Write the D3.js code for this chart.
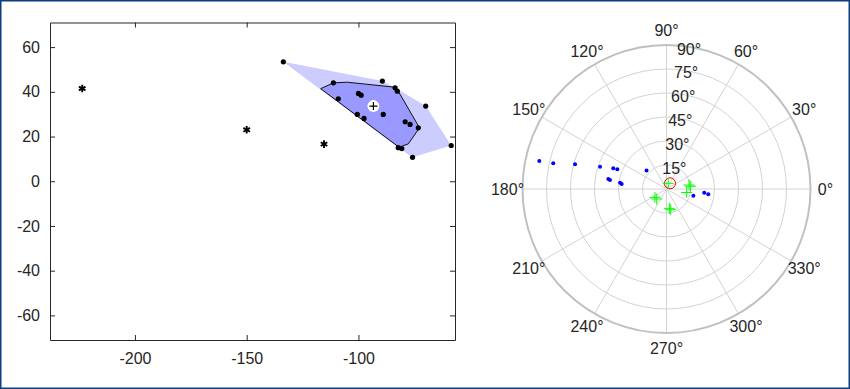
<!DOCTYPE html>
<html>
<head>
<meta charset="utf-8">
<script src="https://cdn.jsdelivr.net/npm/d3@7"></script>
<style>
  body { margin: 0; background: #fff; }
  svg { display: block; }
  text { font-family: "Liberation Sans", Arial, Helvetica, sans-serif; fill: #262626; }
</style>
</head>
<body>
<div id="chart"></div>
<script>
'use strict'

// left panel: bag plot data (x, y)
var pointX = [-133.6, -111.2, -89.3, -83.6, -82.6, -69.9, -109.0, -100.0, -98.8, -88.9,
              -100.5, -97.5, -79.1, -76.9, -73.2, -82.2, -80.6, -75.8, -58.5];
var pointY = [53.4, 44.0, 44.8, 41.8, 40.3, 33.6, 36.9, 39.3, 38.5, 29.9,
              29.9, 28.1, 26.6, 25.4, 23.9, 15.0, 14.6, 10.7, 16.0];
var outlierX = [-223.6, -150.0, -115.4];
var outlierY = [41.5, 23.0, 16.6];
var bagX = [-116.9, -111.2, -105.0, -84.1, -82.2, -72.7, -77.7, -81.8];
var bagY = [41.4, 44.0, 44.3, 42.1, 40.3, 23.9, 16.7, 15.2];
var medianXY = [-93.3, 33.6];
var xTicks = [-200, -150, -100];
var yTicks = [-60, -40, -20, 0, 20, 40, 60];

// right panel: polar data (theta in degrees, r)
var blueTheta = [167.6, 167.2, 164.9, 161.5, 158.7, 158.2, 137.2, 170.3, 170.9, 172.3, 173.6, 346.0, 354.4, 352.8];
var blueR = [81.4, 72.6, 59.2, 43.8, 35.7, 33.1, 17.0, 36.9, 35.8, 29.3, 28.2, 17.3, 23.7, 26.3];
var greenTheta = [72.5, 10.1, 6.4, 350.2, 215.8, 225.6, 278.3, 281.5];
var greenR = [3.7, 14.3, 15.2, 12.8, 8.9, 8.75, 12.2, 13.2];
var redTheta = [58.4];
var redR = [4.2];
var rTicks = [15, 30, 45, 60, 75, 90];
var thetaTicks = [0, 30, 60, 90, 120, 150, 180, 210, 240, 270, 300, 330];

const W = 850, H = 389;
const ink = '#262626';

var svg = d3.select('#chart').append('svg')
  .attr('width', W)
  .attr('height', H);

svg.append('rect')
  .attr('x', 0.75).attr('y', 0.75)
  .attr('width', W - 1.5).attr('height', H - 1.5)
  .attr('fill', '#fff')
  .attr('stroke', '#0d3f7e')
  .attr('stroke-width', 1.5);

// ---------- left axes ----------
const box = {left: 50, right: 455, top: 22.5, bottom: 340};

var x = d3.scaleLinear().domain([-238, -56.8]).range([box.left, box.right]);
var y = d3.scaleLinear().domain([-71, 71]).range([box.bottom, box.top]);

var left = svg.append('g');

var clip = svg.append('clipPath').attr('id', 'clipL')
clip.append('rect')
  .attr('x', box.left).attr('y', box.top)
  .attr('width', box.right - box.left).attr('height', box.bottom - box.top);

var plot = left.append('g').attr('clip-path', 'url(#clipL)');

var pts = pointX.map((d, i) => [x(d), y(pointY[i])]);
var hull = d3.polygonHull(pts);

plot.append('path')
  .attr('d', 'M' + hull.join('L') + 'Z')
  .attr('fill', '#ccccff')
  .attr('stroke', 'none');

var bag = bagX.map((d, i) => [x(d), y(bagY[i])]);
plot.append('path')
  .attr('d', 'M' + bag.join('L') + 'Z')
  .attr('fill', '#9999ff')
  .attr('stroke', '#111')
  .attr('stroke-width', 1);

plot.selectAll('circle.pt')
  .data(pointX)
  .enter().append('circle')
  .attr('class', 'pt')
  .attr('cx', d => x(d))
  .attr('cy', (d, i) => y(pointY[i]))
  .attr('r', 2.6)
  .attr('fill', '#000');

// outliers as asterisks
var star = plot.selectAll('g.star')
  .data(outlierX)
  .enter().append('g')
  .attr('class', 'star')
  .attr('transform', (d, i) => 'translate(' + x(d) + ',' + y(outlierY[i]) + ')');
[0, 60, 120].forEach(a => {
  star.append('line')
    .attr('x1', 0).attr('y1', -3.8).attr('x2', 0).attr('y2', 3.8)
    .attr('transform', 'rotate(' + a + ')')
    .attr('stroke', '#000').attr('stroke-width', 1.9);
});

// depth median
var med = plot.append('g')
  .attr('transform', 'translate(' + x(medianXY[0]) + ',' + y(medianXY[1]) + ')');
med.append('circle').attr('r', 6).attr('fill', '#fff');
med.append('path').attr('d', 'M-4,0H4M0,-4V4').attr('stroke', '#000').attr('stroke-width', 1.2);

// axes (ticks inward, box all round)
function styleAxis(g) {
  g.selectAll('path').attr('stroke', ink).attr('stroke-width', 1);
  g.selectAll('line').attr('stroke', ink).attr('stroke-width', 1);
  g.selectAll('text').attr('fill', ink).style('font-size', '16px')
    .style('font-family', '"Liberation Sans", Arial, sans-serif');
}
var plain = d => String(d);

left.append('g')
  .attr('transform', 'translate(0,' + box.bottom + ')')
  .call(d3.axisBottom(x).tickValues(xTicks).tickSize(-5).tickSizeOuter(0).tickPadding(13).tickFormat(plain))
  .call(styleAxis);
left.append('g')
  .attr('transform', 'translate(0,' + box.top + ')')
  .call(d3.axisTop(x).tickValues(xTicks).tickSize(-5).tickSizeOuter(0).tickFormat(''))
  .call(styleAxis);
left.append('g')
  .attr('transform', 'translate(' + box.left + ',0)')
  .call(d3.axisLeft(y).tickValues(yTicks).tickSize(-5).tickSizeOuter(0).tickPadding(10).tickFormat(plain))
  .call(styleAxis);
left.append('g')
  .attr('transform', 'translate(' + box.right + ',0)')
  .call(d3.axisRight(y).tickValues(yTicks).tickSize(-5).tickSizeOuter(0).tickFormat(''))
  .call(styleAxis);

// ---------- right polar axes ----------
const cx = 666.5, cy = 189;
var r = d3.scaleLinear().domain([0, 90]).range([0, 144]);
const rad = Math.PI / 180;
function px(t, v) { return cx + r(v) * Math.cos(t * rad); }
function py(t, v) { return cy - r(v) * Math.sin(t * rad); }

var polar = svg.append('g');

polar.selectAll('line.spoke')
  .data(thetaTicks)
  .enter().append('line')
  .attr('x1', cx).attr('y1', cy)
  .attr('x2', d => px(d, 90)).attr('y2', d => py(d, 90))
  .attr('stroke', '#d3d3d3').attr('stroke-width', 1);

polar.selectAll('circle.ring')
  .data(rTicks)
  .enter().append('circle')
  .attr('cx', cx).attr('cy', cy)
  .attr('r', d => r(d))
  .attr('fill', 'none')
  .attr('stroke', d => d === 90 ? '#c0c0c0' : '#d3d3d3')
  .attr('stroke-width', d => d === 90 ? 2 : 1);

polar.selectAll('text.theta')
  .data(thetaTicks)
  .enter().append('text')
  .attr('x', d => cx + 159 * Math.cos(d * rad))
  .attr('y', d => cy - 159 * Math.sin(d * rad))
  .attr('text-anchor', 'middle')
  .attr('dominant-baseline', 'central')
  .style('font-size', '16px')
  .text(d => d + '°');

polar.selectAll('text.rlab')
  .data(rTicks)
  .enter().append('text')
  .attr('x', d => px(83, d) + 5)
  .attr('y', d => py(83, d) + 3)
  .attr('text-anchor', 'middle')
  .attr('dominant-baseline', 'central')
  .style('font-size', '16px')
  .text(d => d + '°');

polar.selectAll('circle.blue')
  .data(blueTheta)
  .enter().append('circle')
  .attr('cx', (d, i) => px(d, blueR[i]))
  .attr('cy', (d, i) => py(d, blueR[i]))
  .attr('r', 2)
  .attr('fill', '#0000ff');

polar.selectAll('circle.red')
  .data(redTheta)
  .enter().append('circle')
  .attr('cx', (d, i) => px(d, redR[i]))
  .attr('cy', (d, i) => py(d, redR[i]))
  .attr('r', 5.5)
  .attr('fill', 'none')
  .attr('stroke', '#ff0000')
  .attr('stroke-width', 1);

polar.selectAll('path.green')
  .data(greenTheta)
  .enter().append('path')
  .attr('d', (d, i) => {
    var gx = px(d, greenR[i]), gy = py(d, greenR[i]);
    return 'M' + (gx - 5.5) + ',' + gy + 'H' + (gx + 5.5) + 'M' + gx + ',' + (gy - 5.5) + 'V' + (gy + 5.5);
  })
  .attr('stroke', '#00ff00')
  .attr('stroke-width', 1)
  .attr('fill', 'none');
</script>
</body>
</html>
